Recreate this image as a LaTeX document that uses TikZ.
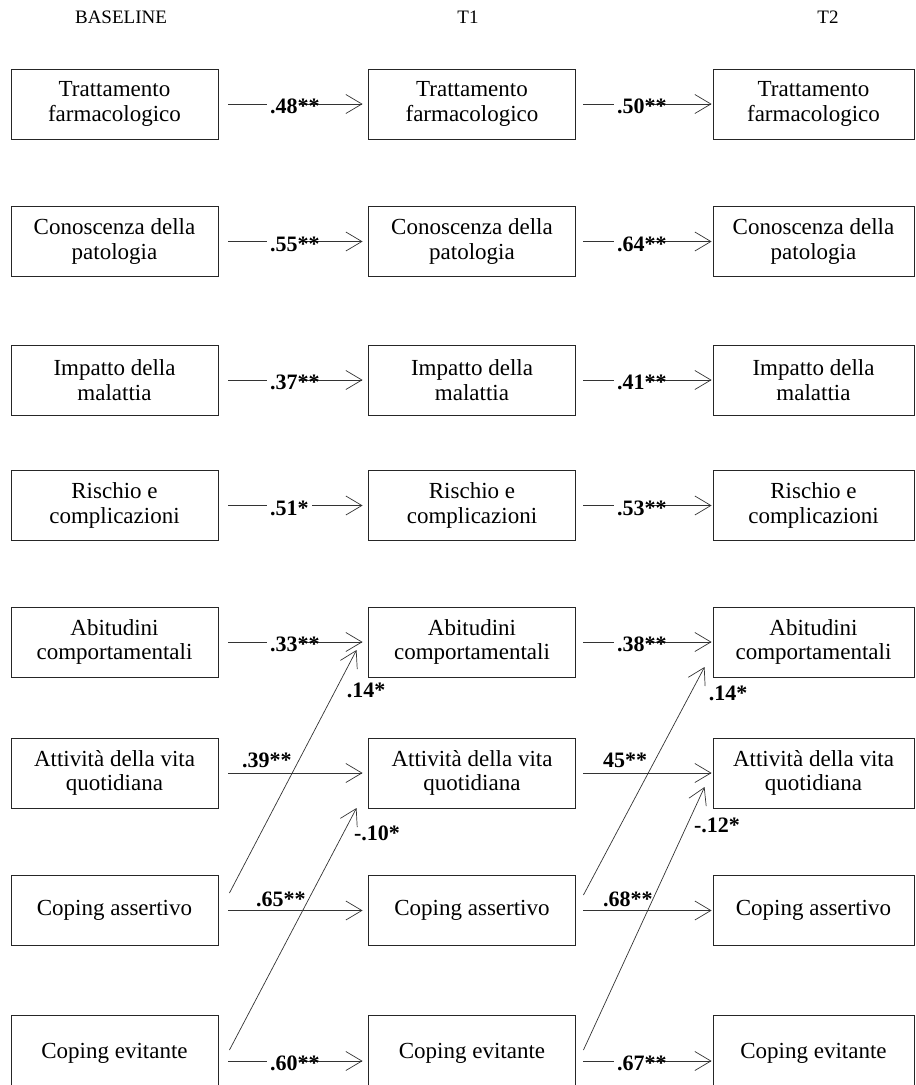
\documentclass[tikz,border=0pt]{standalone}
\usepackage{fontspec}
\setmainfont{Liberation Serif}
\usetikzlibrary{arrows.meta}
\newcommand\boxfont{\fontsize{23}{24.5}\selectfont}
\newcommand\coeffont{\fontsize{22}{24}\selectfont\bfseries}
\newcommand\headfont{\fontsize{19}{22}\selectfont}
\begin{document}
\begin{tikzpicture}[x=1pt,y=-1pt]
\tikzset{
  box/.style={draw=black!85, line width=0.9pt, minimum width=207pt, minimum height=70pt,
    align=center, inner sep=2pt, font=\boxfont},
  lastcol/.style={box, minimum width=201pt},
  tallbox/.style={minimum height=76pt},
  link/.style={draw=black!80, line width=0.7pt, -{Straight Barb[length=16pt,width=19pt]}},
  coef/.style={font=\coeffont, inner sep=0pt},
  online/.style={coef, fill=white, inner xsep=3pt, anchor=west},
  above/.style={coef, anchor=west},
  head/.style={font=\headfont}
}
\useasboundingbox (0,0) rectangle (916,1085);

% column headings
\node[head] (hb) at (121,17) {BASELINE};
\node[head] (h1) at (468,17) {T1};
\node[head] (h2) at (828,17) {T2};

% three waves of the same eight measures
\foreach \c/\x/\s in {1/114.5/box, 2/472/box, 3/813.5/lastcol}{
  \node[\s] (c\c r1) at (\x,104)    {Trattamento\\farmacologico};
  \node[\s] (c\c r2) at (\x,241.5)  {Conoscenza della\\patologia};
  \node[\s] (c\c r3) at (\x,380)    {Impatto della\\malattia};
  \node[\s] (c\c r4) at (\x,505.5)  {Rischio e\\complicazioni};
  \node[\s] (c\c r5) at (\x,642)    {Abitudini\\comportamentali};
  \node[\s] (c\c r6) at (\x,773)    {Attività della vita\\quotidiana};
  \node[\s] (c\c r7) at (\x,910.5)  {Coping assertivo};
  \node[\s,tallbox] (c\c r8) at (\x,1053) {Coping evitante};
}

% stability paths
\foreach \r in {1,...,7}{
  \draw[link] ([xshift=10pt]c1r\r.east) -- ([xshift=-5.5pt]c2r\r.west);
  \draw[link] ([xshift=7.5pt]c2r\r.east) -- ([xshift=-1pt]c3r\r.west);
}
\draw[link] ([xshift=10pt,yshift=-8pt]c1r8.east) -- ([xshift=-5.5pt,yshift=-8pt]c2r8.west);
\draw[link] ([xshift=7.5pt,yshift=-8pt]c2r8.east) -- ([xshift=-1pt,yshift=-8pt]c3r8.west);

% cross-lagged paths from coping
\draw[link] ([xshift=11pt,yshift=17.5pt]c1r7.east) -- ([xshift=-11.5pt,yshift=-8pt]c2r5.west);
\draw[link] ([xshift=11pt,yshift=3pt]c1r8.east) -- ([xshift=-11.5pt,yshift=-35pt]c2r6.west);
\draw[link] ([xshift=7.5pt,yshift=15.5pt]c2r7.east) -- ([xshift=-8pt,yshift=-25pt]c3r5.west);
\draw[link] ([xshift=7.5pt,yshift=3pt]c2r8.east) -- ([xshift=-8pt,yshift=-14pt]c3r6.west);

% coefficients on the stability paths
\node[online] (k1a) at (267,106.5) {.48\rlap{**}};
\node[online] (k1b) at (614,106.5) {.50\rlap{**}};
\node[online] (k2a) at (267,244)   {.55\rlap{**}};
\node[online] (k2b) at (614,244)   {.64\rlap{**}};
\node[online] (k3a) at (267,382.5) {.37\rlap{**}};
\node[online] (k3b) at (614,382.5) {.41\rlap{**}};
\node[online] (k4a) at (267,508)   {.51*};
\node[online] (k4b) at (614,508)   {.53\rlap{**}};
\node[online] (k5a) at (267,644.5) {.33\rlap{**}};
\node[online] (k5b) at (614,644.5) {.38\rlap{**}};
\node[above]  (k6a) at (242,760)   {.39**};
\node[above]  (k6b) at (603,760)   {45**};
\node[above]  (k7a) at (256,899)   {.65**};
\node[above]  (k7b) at (603,899)   {.68**};
\node[online] (k8a) at (267,1063.5) {.60\rlap{**}};
\node[online] (k8b) at (614,1063.5) {.67\rlap{**}};

% coefficients on the cross-lagged paths
\node[coef] (x1a) at (366,690) {.14*};
\node[coef] (x2a) at (377,833) {-.10*};
\node[coef] (x1b) at (728,693) {.14*};
\node[coef] (x2b) at (717,825) {-.12*};
\end{tikzpicture}
\end{document}
